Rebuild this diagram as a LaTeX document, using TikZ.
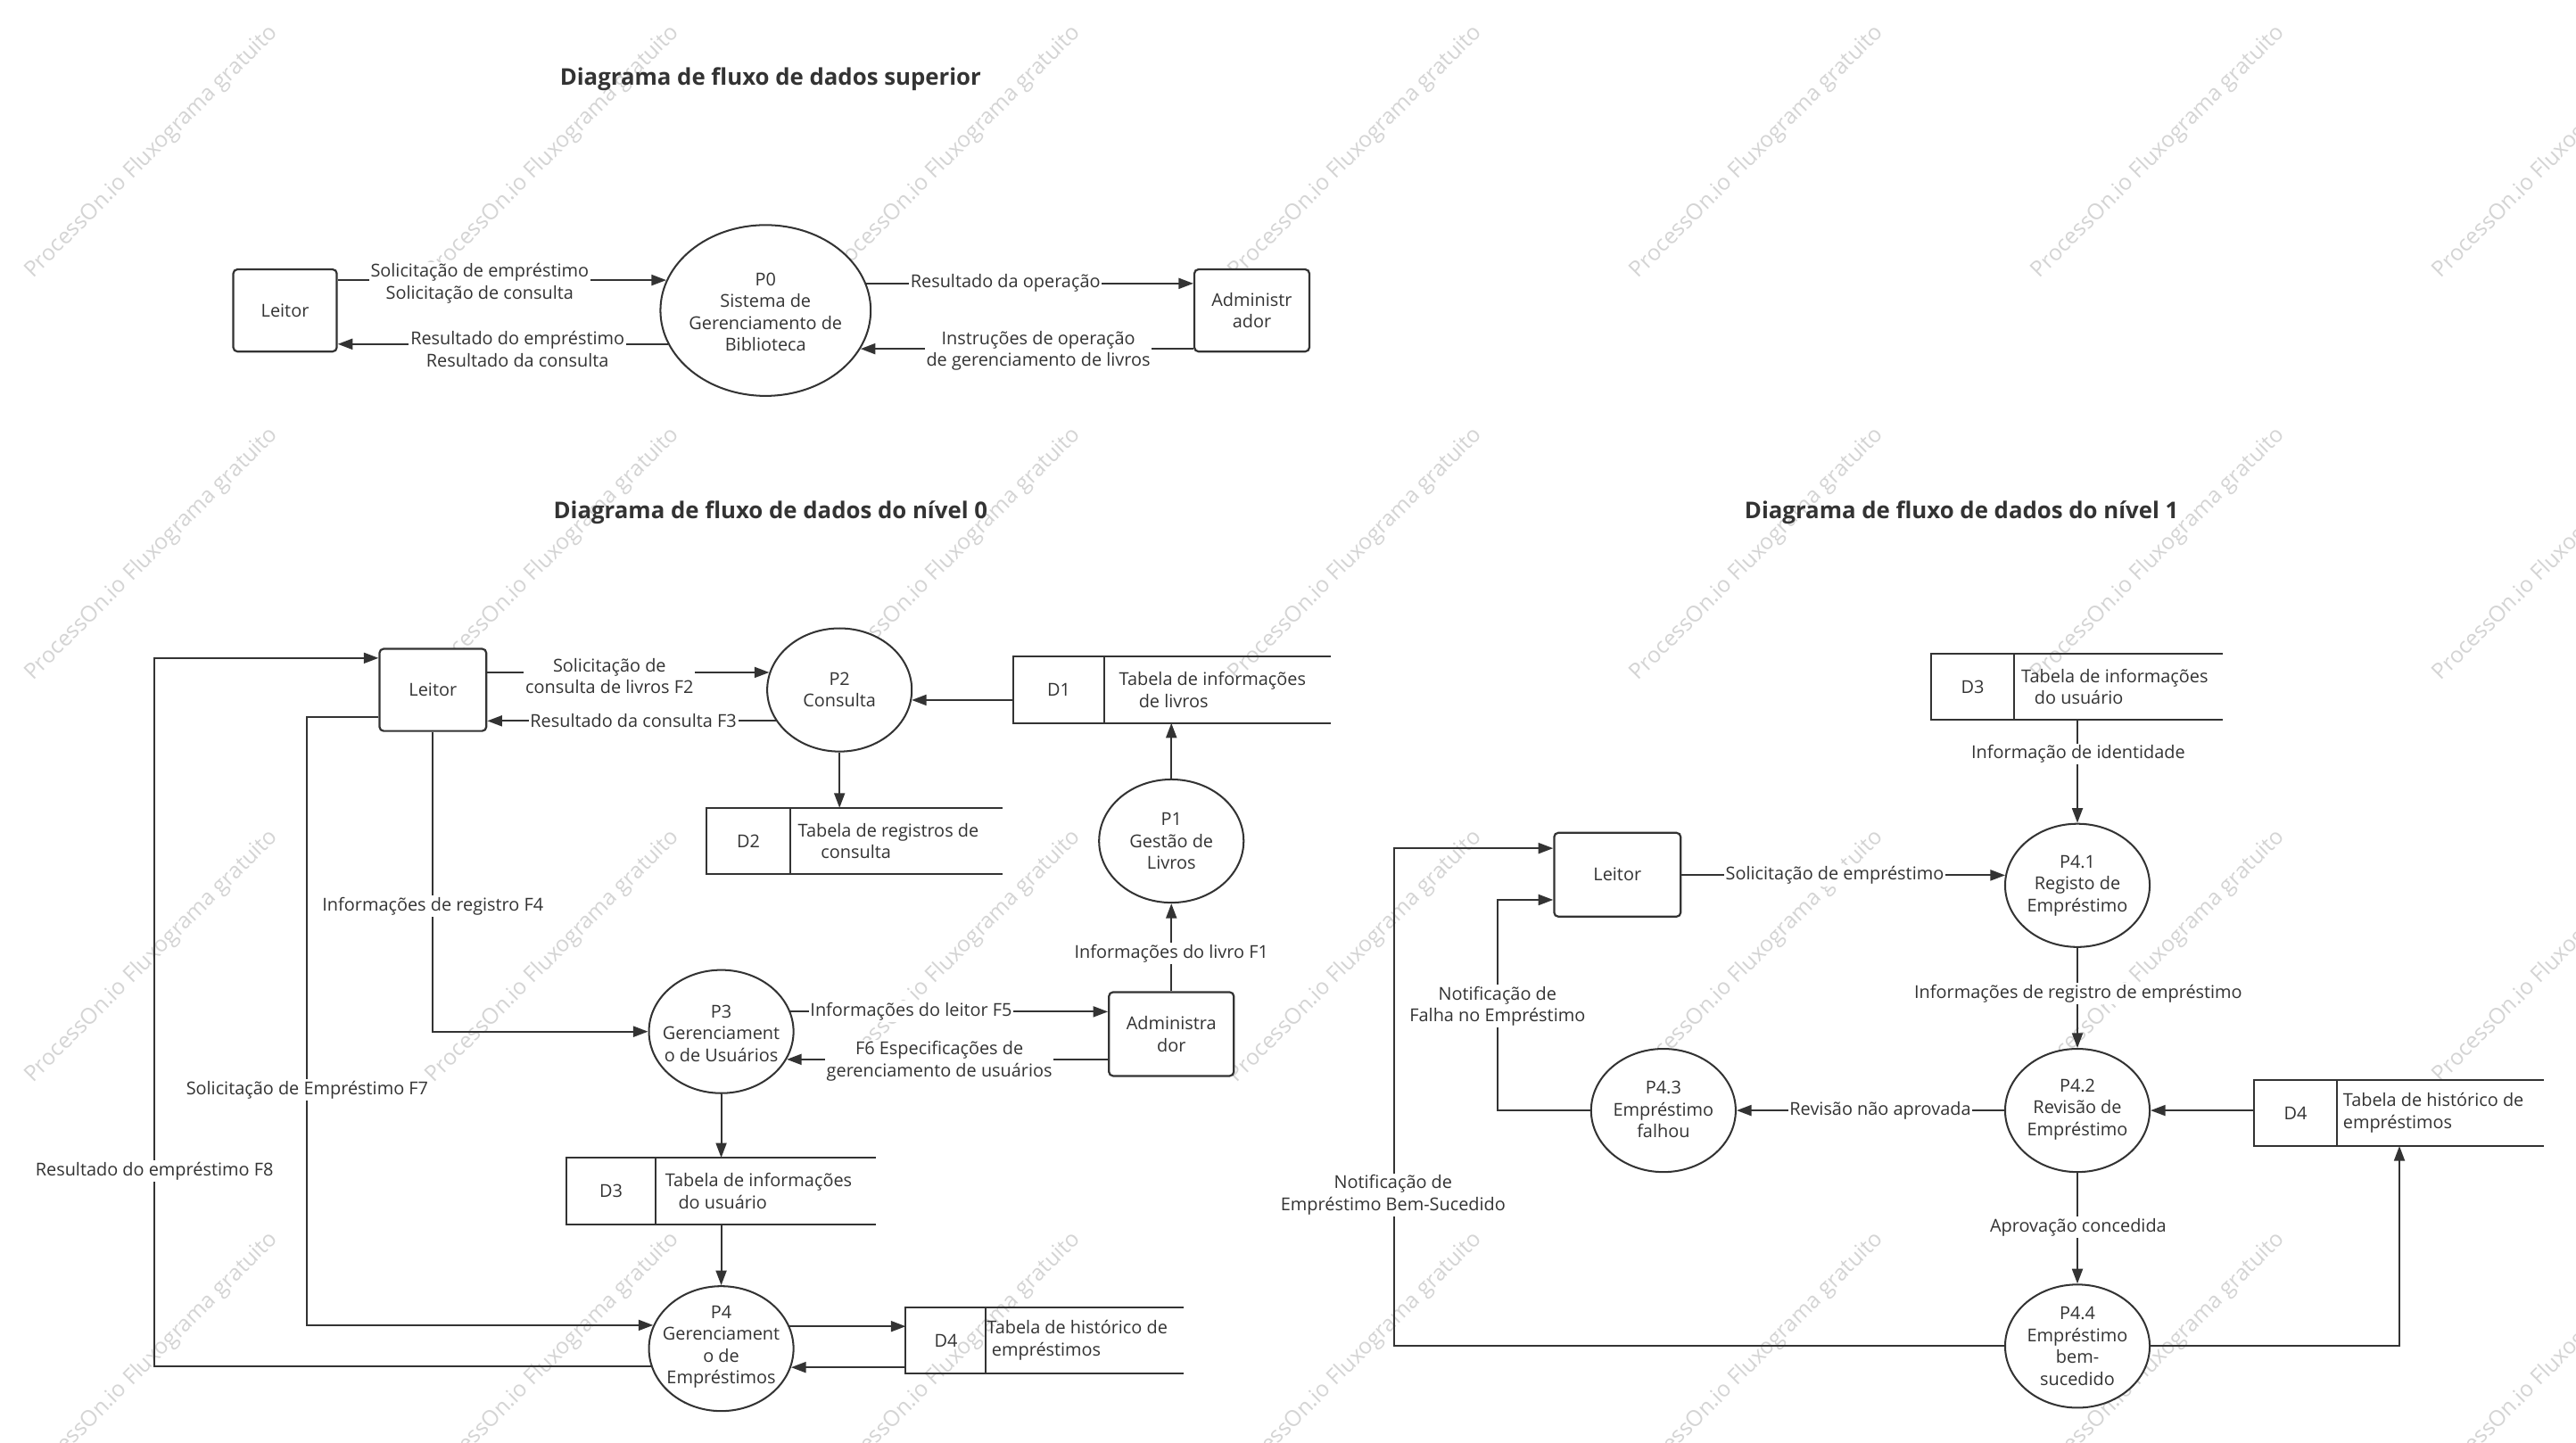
\documentclass[tikz,border=0pt]{standalone}
\usepackage{fontspec}
\setmainfont{Open Sans}
\usetikzlibrary{shapes.geometric,arrows.meta,calc}
\definecolor{ink}{HTML}{333333}
\definecolor{wm}{HTML}{D4D4D4}
\tikzset{
 txt/.style={font=\fontsize{10.8}{13.3}\selectfont, text=ink, align=center, inner sep=0pt},
 lbl/.style={txt, fill=white, inner sep=1pt},
 ttl/.style={font=\fontsize{14}{16}\selectfont\bfseries, text=ink, inner sep=0pt},
 ent/.style={draw=ink, line width=1.2pt, rounded corners=2.5pt, fill=white, txt},
 proc/.style={draw=ink, line width=1.1pt, ellipse, fill=white, inner sep=0pt, minimum width=88pt, minimum height=75pt},
 flow/.style={draw=ink, line width=1.1pt, -{Triangle[length=9pt,width=6.5pt]}},
 wire/.style={draw=ink, line width=1.1pt},
 wmark/.style={font=\fontsize{13.4}{15}\selectfont, text=wm, rotate=45, inner sep=0pt},
}
% name, x1, y1, x2, y2, divider x, id, text, text offset
\newcommand{\dstore}[9]{%
 \node[inner sep=0pt, minimum width={#4-#2}, minimum height={#5-#3}] (#1) at ({(#2+#4)/2},{(#3+#5)/2}) {};
 \draw[wire] (#1.north east) -- (#1.north west) -- (#1.south west) -- (#1.south east);
 \draw[wire] (#6,#3) -- (#6,#5);
 \node[txt] (#1id) at ({(#2+#6)/2},{(#3+#5)/2}) {#7};
 \node[txt, align=left, anchor=west] (#1tx) at ({#6+#9},{(#3+#5)/2}) {#8};
}
\begin{document}
\begin{tikzpicture}[x=1pt,y=-1pt]
\fill[white] (0,0) rectangle (1568,878);
\useasboundingbox (0,0) rectangle (1568,878);
% watermark
\foreach \r in {0,...,3} {\foreach \c in {0,...,6} {
 \node[wmark] (wm-\r-\c) at ({92.3+244.3*\c},{92.6+244.9*\r}) {ProcessOn.io Fluxograma gratuito};
}}

% titles
\node[ttl] (T0) at (469,48) {Diagrama de fluxo de dados superior};
\node[ttl] (T1) at (469,312) {Diagrama de fluxo de dados do nível 0};
\node[ttl] (T2) at (1194,312) {Diagrama de fluxo de dados do nível 1};

% ---------------- top level
\node[ent, minimum width=63pt, minimum height=50pt] (L0) at (173.5,189) {Leitor};
\node[proc, minimum width=128pt, minimum height=104pt] (P0) at (466,189) {};
\node[txt] (P0t) at (466,190) {P0\\Sistema de\\Gerenciamento de\\Biblioteca};
\node[ent, minimum width=70pt, minimum height=50pt] (A0) at (762,189) {Administr\\ador};

\draw[flow] (L0.east |- P0.163.3) -- (P0.163.3);
\draw[flow] (P0.199.7) -- (L0.east |- P0.199.7);
\draw[flow] (P0.15.7) -- (A0.west |- P0.15.7);
\draw[flow] (A0.west |- P0.338.2) -- (P0.338.2);
\node[lbl] (l01) at (292,172.5) {Solicitação de empréstimo\\Solicitação de consulta};
\node[lbl] (l02) at (315,212.5) {Resultado do empréstimo\\Resultado da consulta};
\node[lbl] (l03) at (612,172.5) {Resultado da operação};
\node[lbl] (l04) at (632,213.5) {Instruções de operação\\de gerenciamento de livros};

% ---------------- level 0
\node[ent, minimum width=65pt, minimum height=50pt] (L1) at (263.5,420) {Leitor};
\node[proc] (P2) at (511,420) {};
\node[txt] (P2t) at (511,420) {P2\\Consulta};
\dstore{D1}{617}{400}{810}{440}{672}{D1}{Tabela de informações\\\hspace*{12pt}de livros}{9}
\dstore{D2}{430}{492}{610}{532}{481}{D2}{Tabela de registros de\\\hspace*{14pt}consulta}{4.5}
\node[proc] (P1) at (713,512) {};
\node[txt] (P1t) at (713,512) {P1\\Gestão de\\Livros};
\node[ent, minimum width=76pt, minimum height=51pt] (A1) at (713,629.5) {Administra\\dor};
\node[proc] (P3) at (439,628) {};
\node[txt] (P3t) at (439,629) {P3\\Gerenciament\\o de Usuários};
\dstore{D3a}{345}{705}{533}{745}{399}{D3}{Tabela de informações\\\hspace*{8pt}do usuário}{5.7}
\node[proc, minimum height=76pt] (P4) at (439,821) {};
\node[txt] (P4t) at (439,820) {P4\\Gerenciament\\o de\\Empréstimos};
\dstore{D4a}{551.5}{796}{720.5}{836}{600}{D4}{Tabela de histórico de\\\hspace*{3pt}empréstimos}{0.5}

\coordinate (b7a) at (187,436.5);
\coordinate (b8) at (94,400.6);

\draw[flow] (L1.east |- P2.166.7) -- (P2.166.7);
\draw[flow] (P2.206.6) -- (L1.east |- P2.206.6);
\draw[flow] (D1.west |- P2.352.9) -- (P2.352.9);
\draw[flow] (P2.south) -- (P2.south |- D2.north);
\draw[flow] (P1.north) -- (P1.north |- D1.south);
\draw[flow] (A1.north) -- (P1.south);
\draw[flow] (P3.16.35) -- (A1.west |- P3.16.35);
\draw[flow] (A1.west |- P3.337.3) -- (P3.337.3);
\draw[flow] (L1.south) |- (P3.west);
\draw[flow] (P3.south) -- (P3.south |- D3a.north);
\draw[flow] (D3a.south -| P4.north) -- (P4.north);
\draw[flow] (P4.18.3) -- (D4a.west |- P4.18.3);
\draw[flow] (D4a.west |- P4.345.9) -- (P4.345.9);
\draw[flow] (L1.west |- b7a) -- (b7a) -- (b7a |- P4.161.7) -- (P4.161.7);
\draw[flow] (P4.194.1) -- (P4.194.1 -| b8) -- (b8) -- (L1.west |- b8);

\node[lbl] (l11) at (371,411.5) {Solicitação de\\consulta de livros F2};
\node[lbl] (l12) at (385.5,438.5) {Resultado da consulta F3};
\node[lbl] (l13) at (713,580.5) {Informações do livro F1};
\node[lbl] (l14) at (554.6,615.8) {Informações do leitor F5};
\node[lbl] (l15) at (571.8,646) {F6 Especificações de\\gerenciamento de usuários};
\node[lbl] (l16) at (263.5,551.5) {Informações de registro F4};
\node[lbl] (l17) at (187,663.5) {Solicitação de Empréstimo F7};
\node[lbl] (l18) at (94,713) {Resultado do empréstimo F8};

% ---------------- level 1
\dstore{D3b}{1175.5}{398}{1353}{438}{1226}{D3}{Tabela de informações\\\hspace*{8pt}do usuário}{4.2}
\node[proc] (P41) at (1264.5,539) {};
\node[txt] (P41t) at (1264.5,539) {P4.1\\Registo de\\Empréstimo};
\node[ent, minimum width=77pt, minimum height=51pt] (Lb) at (984.5,532.5) {Leitor};
\node[proc] (P42) at (1264.5,676) {};
\node[txt] (P42t) at (1264.5,675.5) {P4.2\\Revisão de\\Empréstimo};
\dstore{D4b}{1372}{657.5}{1548}{697.5}{1422.5}{D4}{Tabela de histórico de\\empréstimos}{3.5}
\node[proc] (P43) at (1012.5,676) {};
\node[txt] (P43t) at (1012.5,675.5) {P4.3\\Empréstimo\\falhou};
\node[proc] (P44) at (1264.5,819.5) {};
\node[txt] (P44t) at (1264.5,819.5) {P4.4\\Empréstimo\\bem-\\sucedido};

\coordinate (b43) at (911.4,547.8);
\coordinate (b44) at (848.4,516.4);
\coordinate (b44d) at (1460.5,819.5);

\draw[flow] (D3b.south -| P41.north) -- (P41.north);
\draw[flow] (Lb.east |- P41.172.1) -- (P41.172.1);
\draw[flow] (P41.south) -- (P42.north);
\draw[flow] (D4b.west |- P42.east) -- (P42.east);
\draw[flow] (P42.west) -- (P43.east);
\draw[flow] (P43.west) -- (P43.west -| b43) -- (b43) -- (Lb.west |- b43);
\draw[flow] (P42.south) -- (P44.north);
\draw[flow] (P44.west) -- (P44.west -| b44) -- (b44) -- (Lb.west |- b44);
\draw[flow] (P44.east) -- (P44.east -| b44d) -- (b44d |- D4b.south);

\node[lbl] (l21) at (1265,459) {Informação de identidade};
\node[lbl] (l22) at (1116.8,533) {Solicitação de empréstimo};
\node[lbl] (l23) at (1265,604.8) {Informações de registro de empréstimo};
\node[lbl] (l24) at (1144.5,676) {Revisão não aprovada};
\node[lbl] (l25) at (911.5,612.5) {Notificação de\\Falha no Empréstimo};
\node[lbl] (l26) at (1265,747) {Aprovação concedida};
\node[lbl] (l27) at (848,727.5) {Notificação de\\Empréstimo Bem-Sucedido};
\end{tikzpicture}
\end{document}
